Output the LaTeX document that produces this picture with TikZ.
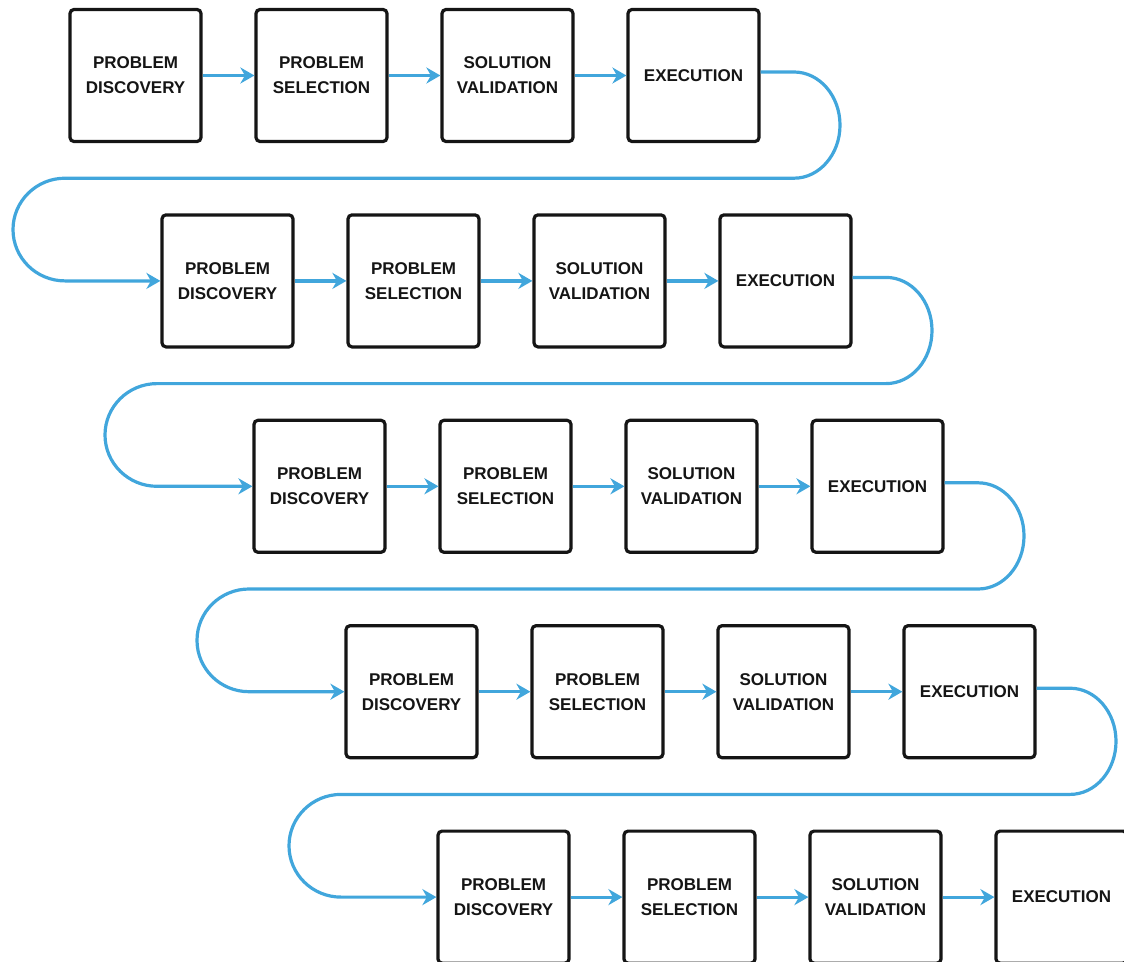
\documentclass[tikz,border=0pt]{standalone}
\usepackage{fontspec}
\setmainfont{Liberation Sans}
\usetikzlibrary{arrows.meta}
\definecolor{flowblue}{HTML}{41A6DC}
\definecolor{ink}{HTML}{151515}
\tikzset{
  stepbox/.style={draw=ink, line width=3.2pt, rounded corners=4pt, fill=white,
    minimum width=131pt, minimum height=132pt, inner sep=0pt, align=center,
    text=ink, font=\bfseries\fontsize{17}{25}\selectfont},
  flow/.style={draw=flowblue, line width=3.2pt,
    -{Stealth[length=14pt, width=16pt, inset=4.5pt]}},
}
\begin{document}
\begin{tikzpicture}[x=1pt, y=-1pt]
\useasboundingbox (0,0) rectangle (1124,961);
% five rows of four steps, each row shifted to the right
\foreach \r in {0,...,4} {
  \pgfmathsetmacro\cy{75.5+205.4*\r}
  \foreach \k/\txt in {1/{PROBLEM\\DISCOVERY}, 2/{PROBLEM\\SELECTION},
                       3/{SOLUTION\\VALIDATION}, 4/{EXECUTION}} {
    \pgfmathsetmacro\cx{135.5+92*\r+186*(\k-1)}
    \node[stepbox] (b\r\k) at (\cx,\cy) {\txt};
  }
}
% arrows inside each row
\foreach \r in {0,...,4} {
  \foreach \k [evaluate=\k as \n using int(\k+1)] in {1,2,3} {
    \draw[flow] (b\r\k.east) -- (b\r\n.west);
  }
}
% serpentine links from the end of one row to the start of the next
\foreach \r [evaluate=\r as \n using int(\r+1)] in {0,...,3} {
  \pgfmathsetmacro\ya{75.5+205.4*\r-3.5}
  \pgfmathsetmacro\ym{75.5+205.4*\r+102.7}
  \pgfmathsetmacro\xr{794+92*\r}
  \pgfmathsetmacro\xl{65+92*\r}
  \draw[flow] ([yshift=3.5pt]b\r4.east) -- (\xr,\ya)
    arc[start angle=90, end angle=-90, x radius=46pt, y radius=53.1pt]
    -- (\xl,\ym)
    arc[start angle=90, end angle=270, x radius=52pt, y radius=51.35pt]
    -- (b\n1.west);
}
\end{tikzpicture}
\end{document}
